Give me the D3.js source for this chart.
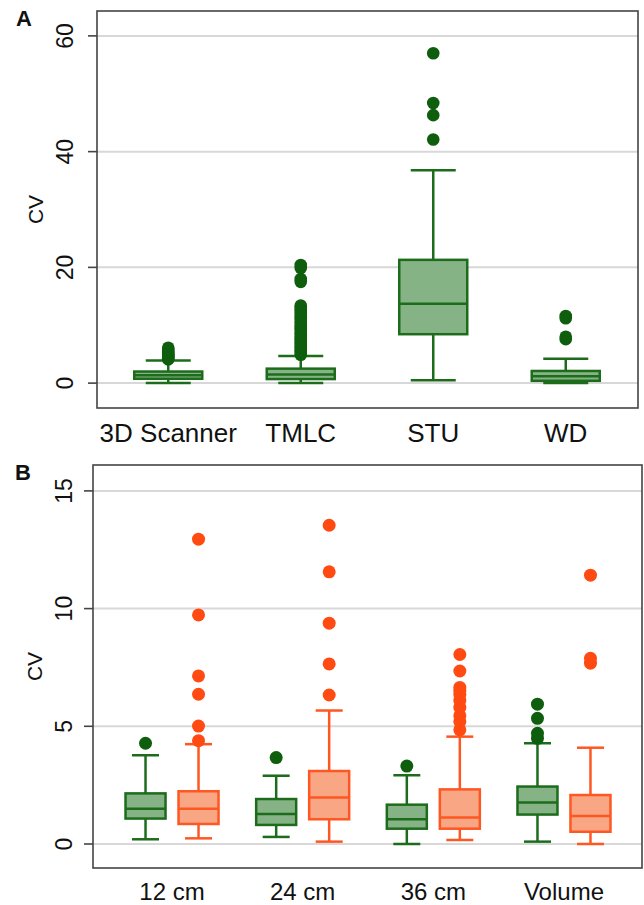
<!DOCTYPE html>
<html>
<head>
<meta charset="utf-8">
<script src="https://cdn.jsdelivr.net/npm/d3@7"></script>
<style>
  body { margin: 0; background: #fff; }
  text { font-family: "Liberation Sans", Arial, sans-serif; fill: #111; }
</style>
</head>
<body>
<svg width="644" height="905"></svg>
<script>
// Panel A: methods, one green box each
var methodsA = ["3D Scanner", "TMLC", "STU", "WD"];
var loA = [0.0, 0.0, 0.5, 0.0];
var q1A = [0.75, 0.7, 8.45, 0.4];
var medA = [1.35, 1.5, 13.7, 1.2];
var q3A = [2.0, 2.5, 21.3, 2.1];
var hiA = [3.9, 4.7, 36.8, 4.2];
var outA = [
  [4.1, 4.3, 4.5, 4.7, 4.9, 5.1, 5.3, 5.5, 5.8, 6.1],
  [4.9, 5.2, 5.6, 5.9, 6.3, 6.6, 7.0, 7.3, 7.7, 8.0, 8.4, 8.7, 9.1, 9.5, 9.8,
   10.2, 10.6, 11.0, 11.4, 11.8, 12.2, 12.6, 13.0, 13.4, 17.5, 18.0, 19.9, 20.4],
  [42.1, 46.3, 48.4, 57.0],
  [7.6, 8.0, 11.2, 11.6]
];
var ticksA = [0, 20, 40, 60];

// Panel B: measurements, two series (green and orange)
var groupsB = ["12 cm", "24 cm", "36 cm", "Volume"];
var seriesB = ["green", "orange"];
var loB = [[0.2, 0.3, 0.0, 0.1], [0.24, 0.1, 0.17, 0.0]];
var q1B = [[1.08, 0.81, 0.65, 1.25], [0.85, 1.05, 0.65, 0.52]];
var medB = [[1.5, 1.27, 1.05, 1.76], [1.5, 1.98, 1.13, 1.19]];
var q3B = [[2.15, 1.91, 1.67, 2.44], [2.24, 3.1, 2.32, 2.08]];
var hiB = [[3.77, 2.9, 2.92, 4.28], [4.24, 5.67, 4.56, 4.09]];
var outB = [
  [[4.28], [3.67], [3.31], [4.49, 4.7, 5.34, 5.94]],
  [[4.39, 5.01, 6.36, 7.14, 9.73, 12.95],
   [6.33, 7.65, 9.38, 11.56, 13.54],
   [4.85, 5.2, 5.45, 5.8, 6.1, 6.35, 6.5, 6.65, 7.35, 8.05],
   [7.68, 7.89, 11.42]]
];
var ticksB = [0, 5, 10, 15];

var stroke = { green: "#1c6c1c", orange: "#ff5722" };
var fill = { green: "#86b386", orange: "#f9a685" };
var dot = { green: "#0e5e0e", orange: "#ff4a12" };

var svg = d3.select("svg");

function frame(x0, x1, y, ticks, label, letter, lx, tickX, cvX) {
  var g = svg.append("g");
  var yTop = y.range()[1], yBot = y.range()[0];
  g.selectAll(".grid").data(ticks).enter().append("line")
    .attr("x1", x0).attr("x2", x1)
    .attr("y1", d => y(d)).attr("y2", d => y(d))
    .attr("stroke", "#d8d8d8").attr("stroke-width", 2);
  g.append("rect")
    .attr("x", x0).attr("y", yTop)
    .attr("width", x1 - x0).attr("height", yBot - yTop)
    .attr("fill", "none").attr("stroke", "#444").attr("stroke-width", 1.6);
  g.selectAll(".tk").data(ticks).enter().append("line")
    .attr("x1", x0 - 9).attr("x2", x0)
    .attr("y1", d => y(d)).attr("y2", d => y(d))
    .attr("stroke", "#444").attr("stroke-width", 1.6);
  g.selectAll(".tl").data(ticks).enter().append("text")
    .attr("transform", d => "translate(" + tickX + "," + y(d) + ") rotate(-90)")
    .attr("text-anchor", "middle").attr("dy", "0.35em")
    .style("font-size", "23px").text(d => d);
  g.append("text")
    .attr("transform", "translate(" + cvX + "," + ((yTop + yBot) / 2) + ") rotate(-90)")
    .attr("text-anchor", "middle").attr("dy", "0.35em")
    .style("font-size", "21px").text(label);
  g.append("text").attr("x", lx).attr("y", yTop + 15)
    .style("font-size", "22px").style("font-weight", "bold").text(letter);
}

function box(g, cx, w, capW, y, lo, q1, med, q3, hi, outs, s, r) {
  g.append("line").attr("x1", cx).attr("x2", cx).attr("y1", y(lo)).attr("y2", y(q1))
    .attr("stroke", stroke[s]).attr("stroke-width", 2.5);
  g.append("line").attr("x1", cx).attr("x2", cx).attr("y1", y(q3)).attr("y2", y(hi))
    .attr("stroke", stroke[s]).attr("stroke-width", 2.5);
  [lo, hi].forEach(function (v) {
    g.append("line").attr("x1", cx - capW / 2).attr("x2", cx + capW / 2)
      .attr("y1", y(v)).attr("y2", y(v))
      .attr("stroke", stroke[s]).attr("stroke-width", 2.5);
  });
  g.append("rect").attr("x", cx - w / 2).attr("y", y(q3))
    .attr("width", w).attr("height", y(q1) - y(q3))
    .attr("fill", fill[s]).attr("stroke", stroke[s]).attr("stroke-width", 2.5);
  g.append("line").attr("x1", cx - w / 2).attr("x2", cx + w / 2)
    .attr("y1", y(med)).attr("y2", y(med))
    .attr("stroke", stroke[s]).attr("stroke-width", 2.5);
  g.selectAll(null).data(outs).enter().append("circle")
    .attr("cx", cx).attr("cy", d => y(d)).attr("r", r)
    .attr("fill", dot[s]);
}

// ---- Panel A ----
var yA = d3.scaleLinear().domain([-4.3, 64.3]).range([408, 11]);
var xA = d3.scaleBand().domain(methodsA).range([102, 632]);
frame(97, 638, yA, ticksA, "CV", "A", 16, 65, 36);
var gA = svg.append("g");
methodsA.forEach(function (m, i) {
  var cx = xA(m) + xA.bandwidth() / 2;
  box(gA, cx, 68, 45, yA, loA[i], q1A[i], medA[i], q3A[i], hiA[i], outA[i], "green", 6.3);
});
gA.selectAll(".xl").data(methodsA).enter().append("text")
  .attr("x", d => xA(d) + xA.bandwidth() / 2).attr("y", 442)
  .attr("text-anchor", "middle").style("font-size", "26px").text(d => d);

// ---- Panel B ----
var yB = d3.scaleLinear().domain([-1.02, 16.1]).range([868, 465]);
var xB = d3.scaleBand().domain(groupsB).range([106.7, 629.3]);
var xSub = d3.scaleBand().domain(seriesB).range([-53, 53]);
frame(93, 642, yB, ticksB, "CV", "B", 15, 63.5, 35);
var gB = svg.append("g");
groupsB.forEach(function (grp, i) {
  seriesB.forEach(function (s, k) {
    var cx = xB(grp) + xB.bandwidth() / 2 + xSub(s) + xSub.bandwidth() / 2;
    box(gB, cx, 40, 27, yB, loB[k][i], q1B[k][i], medB[k][i], q3B[k][i], hiB[k][i], outB[k][i], s, 6.5);
  });
});
gB.selectAll(".xl").data(groupsB).enter().append("text")
  .attr("x", d => xB(d) + xB.bandwidth() / 2).attr("y", 900)
  .attr("text-anchor", "middle").style("font-size", "24px").text(d => d);
</script>
</body>
</html>
